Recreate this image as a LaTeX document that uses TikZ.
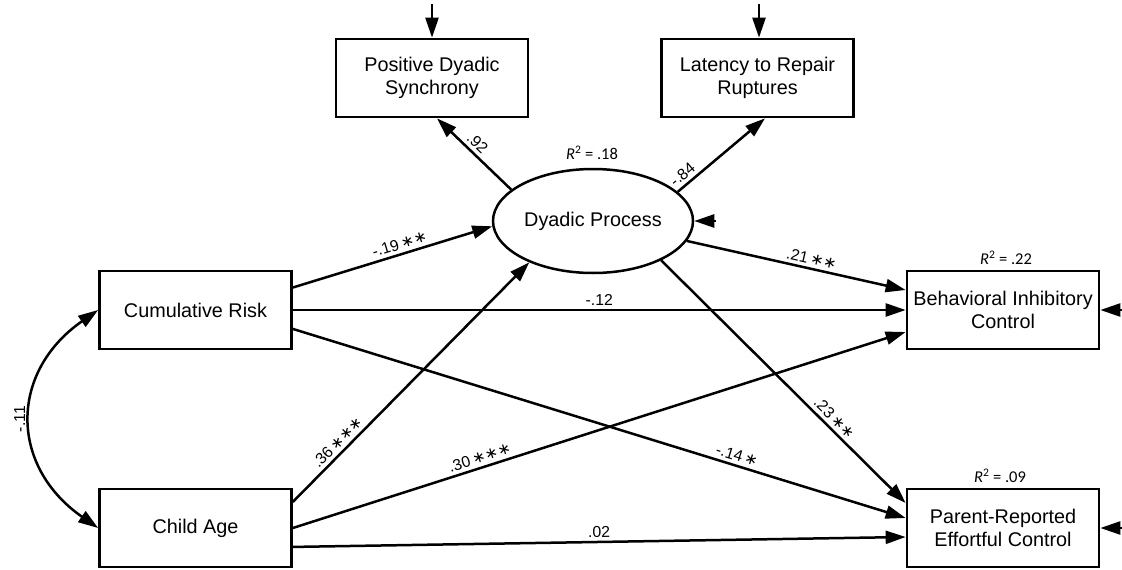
\documentclass[tikz,border=0pt]{standalone}
\usepackage{fontspec}
\setmainfont{Liberation Sans}
\newfontfamily\rsqfont{Carlito}
\newfontfamily\starfont{DejaVu Sans}
\usetikzlibrary{shapes.geometric,arrows.meta,calc}
\newcommand{\sx}{{\starfont ∗}}
\begin{document}
\begin{tikzpicture}[x=1pt,y=-1pt,
  box/.style={draw, line width=2.7pt, minimum width=192pt, minimum height=78pt, inner sep=0pt, align=center, font=\fontsize{19.8}{22.5}\selectfont},
  lat/.style={draw, ellipse, line width=2.5pt, minimum width=200pt, minimum height=104pt, inner sep=0pt, font=\fontsize{19.8}{22.5}\selectfont},
  arr/.style={line width=2.5pt, -{Triangle[length=20pt,width=13pt]}},
  lab/.style={font=\fontsize{15.8}{18}\selectfont, sloped, above, inner sep=3.5pt},
  rsq/.style={font=\rsqfont\fontsize{16.5}{19}\selectfont, inner sep=0pt}
]
\useasboundingbox (0,0) rectangle (1122,570);

% nodes
\node[box] (PDS) at (432,78) {Positive Dyadic\\Synchrony};
\node[box] (LRR) at (757.5,78) {Latency to Repair\\Ruptures};
\node[lat] (DP) at (593,221) {Dyadic Process};
\node[box] (CR) at (195.5,310) {Cumulative Risk};
\node[box] (CA) at (195.5,528) {Child Age};
\node[box] (BIC) at (1003,310) {Behavioral Inhibitory\\Control};
\node[box] (PREC) at (1003,528) {Parent-Reported\\Effortful Control};

% R squared
\node[rsq] (r1) at (592,153) {\textit{R}\textsuperscript{2} = .18};
\node[rsq] (r2) at (1006,258) {\textit{R}\textsuperscript{2} = .22};
\node[rsq] (r3) at (1000,476) {\textit{R}\textsuperscript{2} = .09};

% error terms
\coordinate (ePDS) at (432,4);
\coordinate (eLRR) at (759,4);
\coordinate (eDP) at (716,221);
\coordinate (eBIC) at (1122,310);
\coordinate (ePREC) at (1122,528);
\draw[arr] (ePDS) -- (ePDS |- PDS.north);
\draw[arr] (eLRR) -- (eLRR |- LRR.north);
\draw[arr] (eDP) -- (DP.east);
\draw[arr] (eBIC) -- (BIC.east);
\draw[arr] (ePREC) -- (PREC.east);

% measurement paths
\draw[arr] (DP.159.1) -- ($(PDS.south)+(5,0)$) node[lab,pos=0.55]{.92};
\draw[arr] (DP.19.4) -- ($(LRR.south)+(7.5,0)$) node[lab,pos=0.13]{-.84};

% structural paths
\draw[arr] (CR.13.4) -- (DP.183) node[lab,pos=0.55]{-.19\,\sx\sx};
\draw[arr] (CR.east) -- (BIC.west) node[lab,pos=0.5]{-.12};
\draw[arr] (CR.-11.7) -- ($(PREC.west)+(0,-10)$) node[lab,pos=0.72]{-.14\,\sx};
\draw[arr] (CA.15.6) -- (DP.213.7) node[lab,pos=0.22]{.36\,\sx\sx\sx};
\draw[arr] (CA.east) -- ($(BIC.west)+(0,22)$) node[lab,pos=0.31]{.30\,\sx\sx\sx};
\draw[arr] (CA.-11.1) -- ($(PREC.west)+(0,9)$) node[lab,pos=0.5]{.02};
\draw[arr] (DP.-12.5) -- ($(BIC.west)+(0,-20)$) node[lab,pos=0.56]{.21\,\sx\sx};
\draw[arr] (DP.-30.7) -- ($(PREC.west)+(0,-25)$) node[lab,pos=0.68]{.23\,\sx\sx};

% covariance
\draw[line width=2.5pt, {Triangle[length=20pt,width=13pt]}-{Triangle[length=20pt,width=13pt]}]
  (CR.west) .. controls ($(CR.west)+(-89,62)$) and ($(CA.west)+(-89,-62)$) .. (CA.west)
  node[pos=0.5, anchor=south, rotate=90, font=\fontsize{15.8}{18}\selectfont, inner sep=5pt] {-.11};
\end{tikzpicture}
\end{document}
